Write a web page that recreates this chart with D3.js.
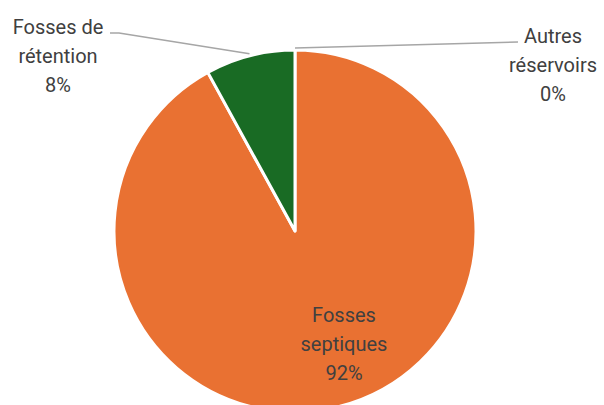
<!DOCTYPE html>
<html>
<head>
<meta charset="utf-8">
<script src="https://cdn.jsdelivr.net/npm/d3@7"></script>
<style>
  html, body { margin: 0; padding: 0; background: #fff; }
  svg { display: block; }
  text { font-family: Roboto, "Liberation Sans", sans-serif; fill: #404040; }
</style>
</head>
<body>
<svg id="chart" width="604" height="405"></svg>
<script>
// Répartition des réservoirs
const categories = ["Fosses septiques", "Fosses de rétention", "Autres réservoirs"];
const values = [92, 8, 0];
const labelLines = [["Fosses", "septiques"], ["Fosses de", "rétention"], ["Autres", "réservoirs"]];
const colors = ["#E97132", "#196B24", "#A02B93"];

const W = 604, H = 405;
const cx = 295, cy = 231, R = 181;
const fontSize = 20, lineH = 29;

const svg = d3.select("#chart");
const g = svg.append("g").attr("transform", `translate(${cx},${cy})`);

const pie = d3.pie().sort(null).value(d => d.value).startAngle(0).endAngle(2 * Math.PI);
const data = categories.map((c, i) => ({ name: c, value: values[i], lines: labelLines[i], color: colors[i] }));
const arcs = pie(data);
const total = d3.sum(values);

const arc = d3.arc().innerRadius(0).outerRadius(R);

g.selectAll("path.slice")
  .data(arcs.filter(a => a.value > 0))
  .join("path")
  .attr("class", "slice")
  .attr("d", arc)
  .attr("fill", d => d.data.color)
  .attr("stroke", "#fff")
  .attr("stroke-width", 3)
  .attr("stroke-linejoin", "round");

// label placement (absolute page coords); index 0 sits inside the pie
const labelPos = [
  { x: 344, y: 322, inside: true },
  { x: 58, y: 34, anchorPt: [110, 33], elbow: [119, 33] },
  { x: 553, y: 43, anchorPt: [518, 42] }
];

const pct = d3.format(".0%");

arcs.forEach((a, i) => {
  const p = labelPos[i];
  if (!p.inside) {
    const mid = (a.startAngle + a.endAngle) / 2;
    const er = R + 2;
    const ex = cx + er * Math.sin(mid);
    const ey = cy - er * Math.cos(mid);
    const pts = [p.anchorPt];
    if (p.elbow) pts.push(p.elbow);
    pts.push([ex, ey]);
    svg.append("path")
      .attr("d", d3.line()(pts))
      .attr("fill", "none")
      .attr("stroke", "#A6A6A6")
      .attr("stroke-width", 1.5);
  }
  const t = svg.append("text")
    .attr("text-anchor", "middle")
    .attr("font-size", fontSize);
  const lines = a.data.lines.concat([pct(a.value / total)]);
  lines.forEach((ln, k) => {
    t.append("tspan").attr("x", p.x).attr("y", p.y + k * lineH).text(ln);
  });
});
</script>
</body>
</html>
